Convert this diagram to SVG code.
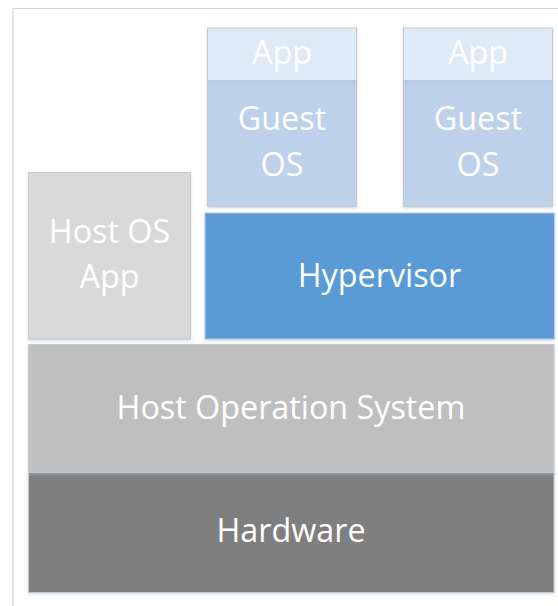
<svg xmlns="http://www.w3.org/2000/svg" width="558" height="606" viewBox="0 0 558 606">
  <style>
    .box { stroke: #c9c9c9; stroke-width: 1; filter: url(#soft); }
    .lbl { font-family: "Open Sans", "DejaVu Sans", sans-serif; font-size: 32.3px; fill: #ffffff; text-anchor: middle; }
    .app { fill: #deeaf6; }
    .guest { fill: #bdd1ea; }
    .hyper { fill: #5a9bd6; }
    .hostapp { fill: #d9d9d9; }
    .hostos { fill: #bfbfbf; }
    .hw { fill: #7f7f7f; }
  </style>
  <defs>
    <filter id="soft" x="-5%" y="-5%" width="110%" height="115%">
      <feDropShadow dx="0" dy="1.5" stdDeviation="1.5" flood-color="#9dbde0" flood-opacity="0.5"/>
    </filter>
  </defs>
  <rect width="558" height="606" fill="#ffffff"/>
  <!-- outer frame -->
  <path d="M13 606 V8.5 H558" fill="none" stroke="#d4d8dc" stroke-width="1.2"/>

  <g id="hardware">
    <rect class="box hw" x="28.5" y="472.5" width="525.5" height="120"/>
    <text class="lbl" x="291" y="542">Hardware</text>
  </g>
  <g id="host-os">
    <rect class="box hostos" x="28.5" y="344.5" width="525.5" height="128"/>
    <text class="lbl" x="291" y="419">Host Operation System</text>
  </g>
  <g id="host-os-app">
    <rect class="box hostapp" x="28.5" y="172.5" width="162" height="166.5"/>
    <text class="lbl" x="109.5" y="243">Host OS</text>
    <text class="lbl" x="109.5" y="288">App</text>
  </g>
  <g id="hypervisor">
    <rect class="box hyper" x="205" y="213" width="349.5" height="126"/>
    <text class="lbl" x="379.5" y="286.5">Hypervisor</text>
  </g>
  <g id="guest-os-1">
    <rect class="box guest" x="207.5" y="80.5" width="149" height="126"/>
    <text class="lbl" x="282" y="130">Guest</text>
    <text class="lbl" x="282" y="175.5">OS</text>
  </g>
  <g id="app-1">
    <rect class="box app" x="207.5" y="28" width="149" height="52.5"/>
    <text class="lbl" x="282" y="64">App</text>
  </g>
  <g id="guest-os-2">
    <rect class="box guest" x="403.5" y="80.5" width="149" height="126"/>
    <text class="lbl" x="478" y="130">Guest</text>
    <text class="lbl" x="478" y="175.5">OS</text>
  </g>
  <g id="app-2">
    <rect class="box app" x="403.5" y="28" width="149" height="52.5"/>
    <text class="lbl" x="478" y="64">App</text>
  </g>
  <g id="connectors"/>
</svg>
